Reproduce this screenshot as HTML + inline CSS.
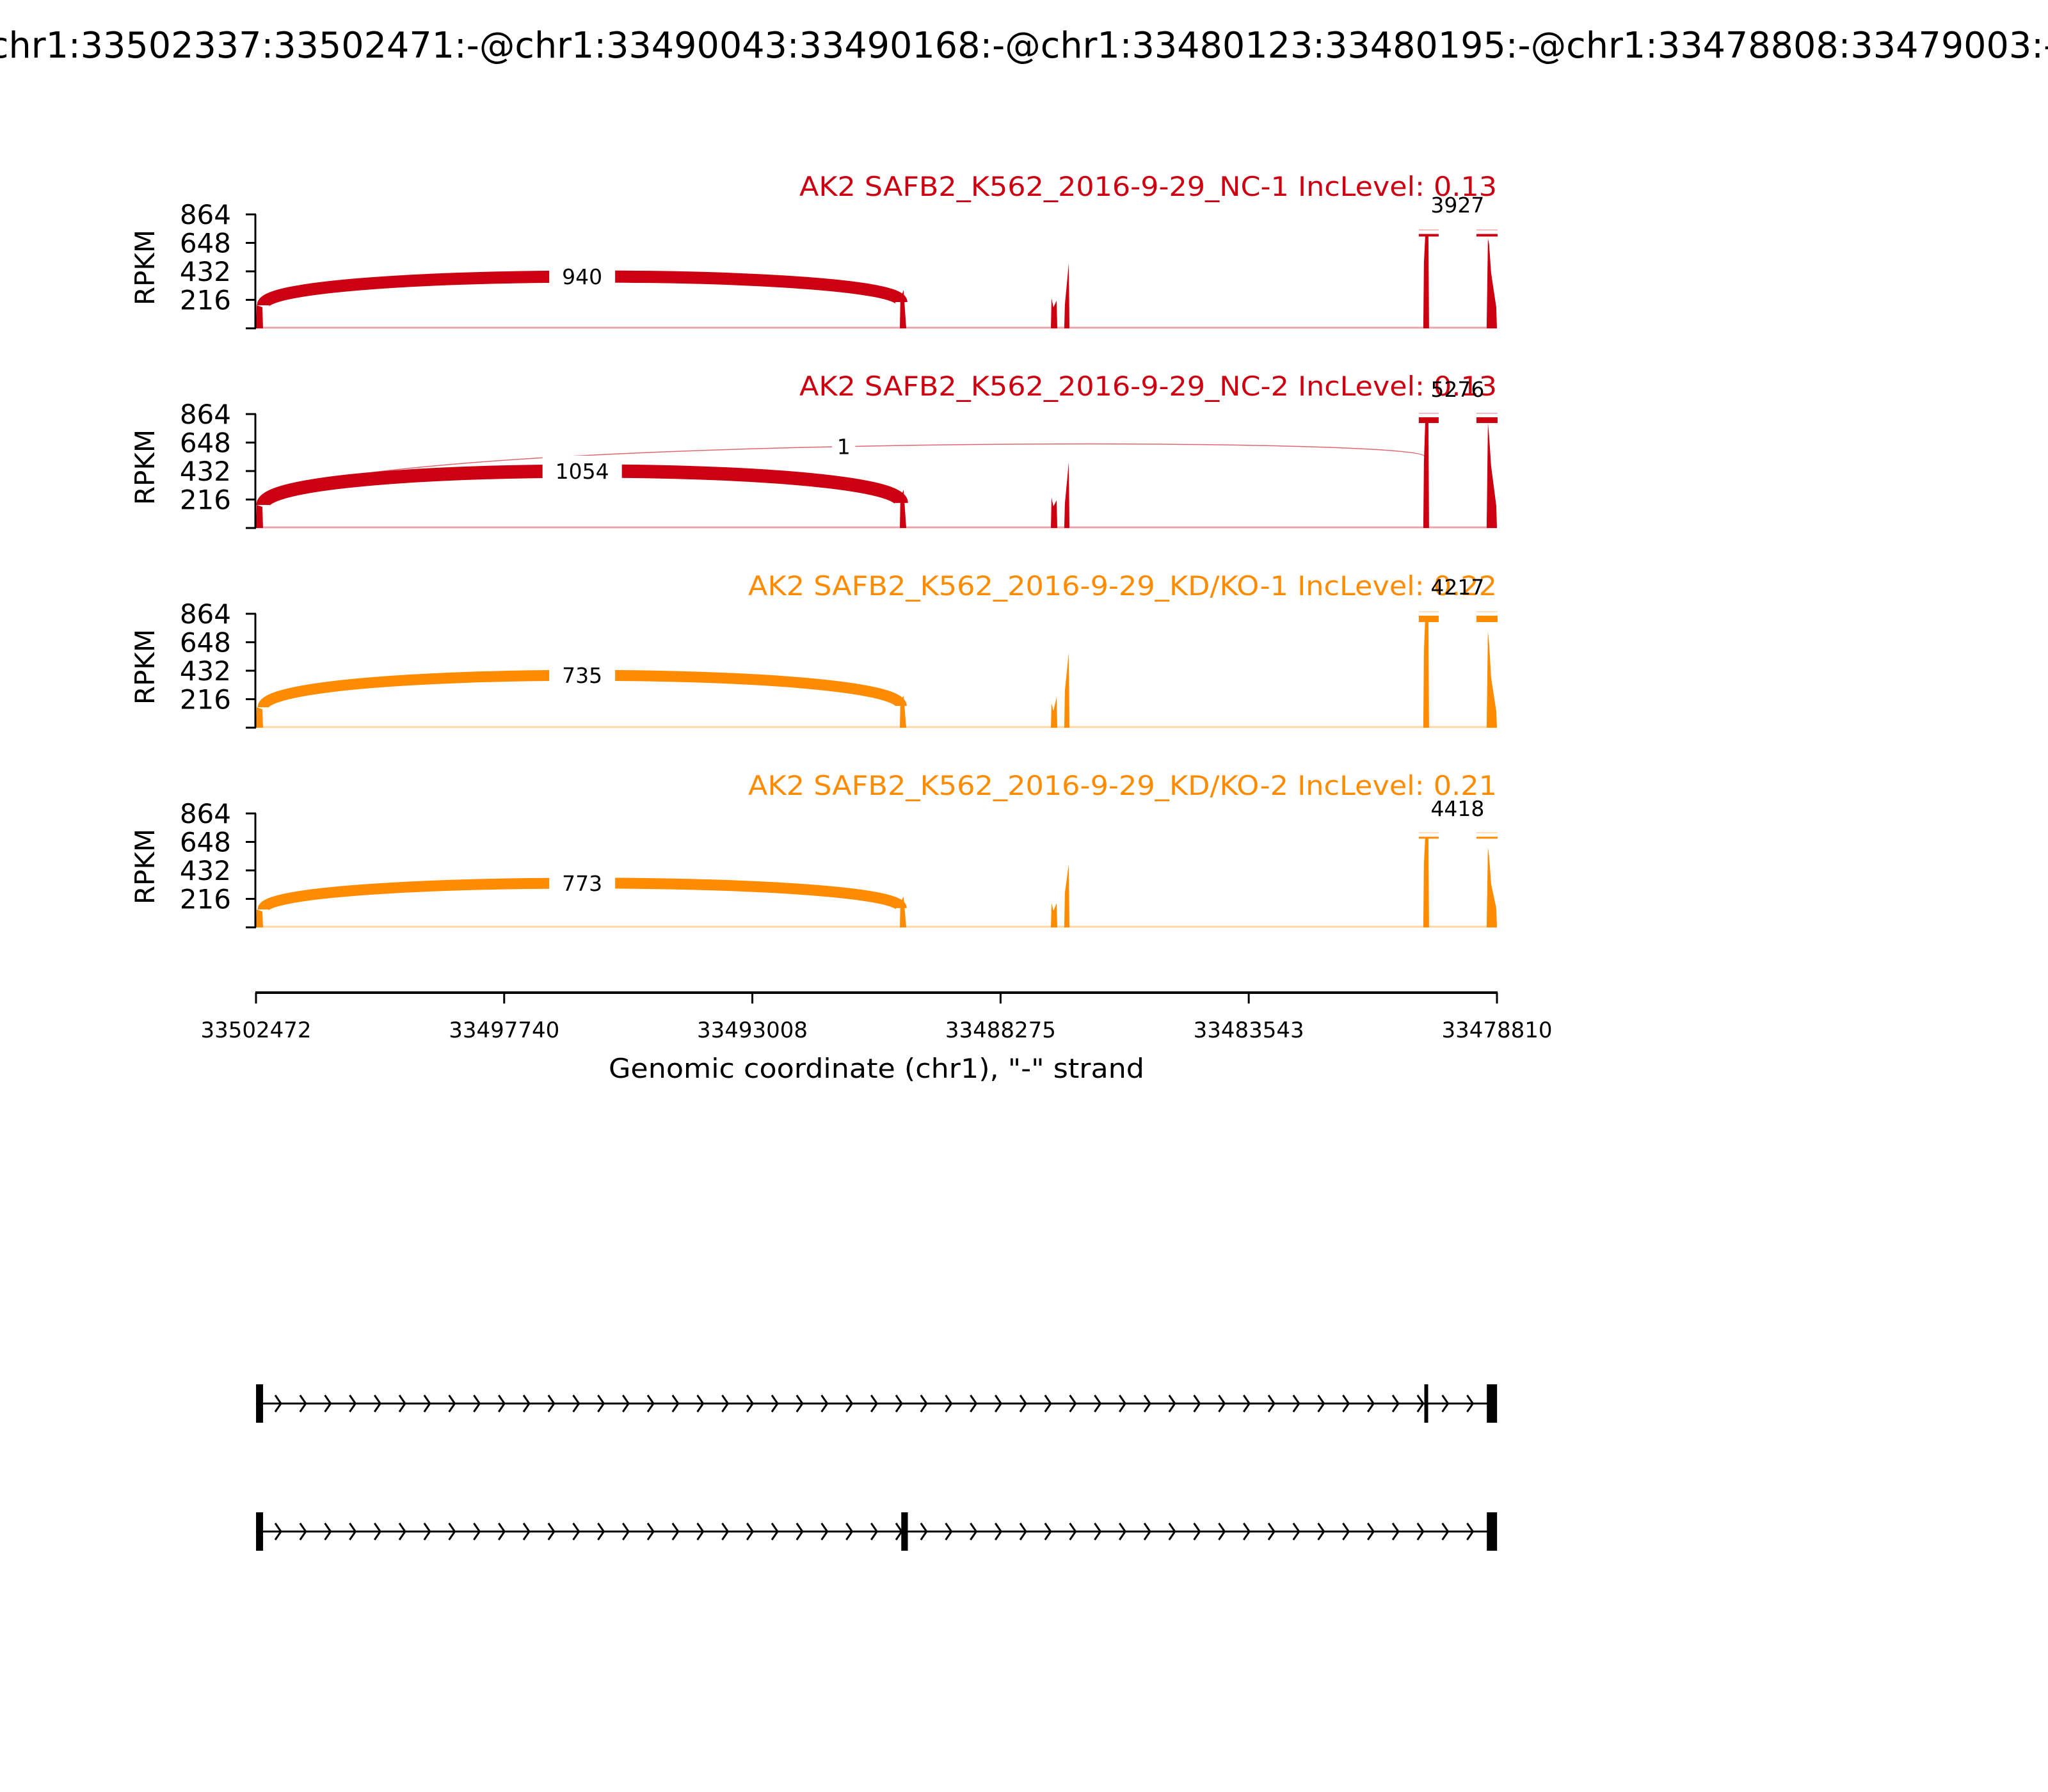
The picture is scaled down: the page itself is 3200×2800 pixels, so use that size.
<!DOCTYPE html>
<html><head><meta charset="utf-8"><title>Sashimi plot</title>
<style>
html,body{margin:0;padding:0;background:#fff;}
svg{display:block;font-family:"DejaVu Sans","Liberation Sans",sans-serif;}
</style></head>
<body>
<svg id="chart" width="3200" height="2800" viewBox="0 0 3200 2800" xmlns="http://www.w3.org/2000/svg">
<rect x="0" y="0" width="3200" height="2800" fill="#fff"/>
<text x="-17" y="90" font-size="56" textLength="3230" lengthAdjust="spacingAndGlyphs" fill="#000">chr1:33502337:33502471:-@chr1:33490043:33490168:-@chr1:33480123:33480195:-@chr1:33478808:33479003:-</text>
</svg>
<script>
const sampleNames = ["AK2 SAFB2_K562_2016-9-29_NC-1 IncLevel: 0.13","AK2 SAFB2_K562_2016-9-29_NC-2 IncLevel: 0.13","AK2 SAFB2_K562_2016-9-29_KD/KO-1 IncLevel: 0.22","AK2 SAFB2_K562_2016-9-29_KD/KO-2 IncLevel: 0.21"];
const sampleGroup = ["NC","NC","KD","KD"];
const yTicks = [216,432,648,864];
const xTickLabels = [33502472,33497740,33493008,33488275,33483543,33478810];
const covPos = [33502472,33502460,33502350,33502338,33490196,33490184,33490123,33490074,33487316,33487304,33487267,33487206,33487194,33487060,33487048,33486974,33486962,33480214,33480202,33480178,33480117,33480105,33479006,33478982,33478960,33478921,33478823,33478810];
const cov1 = [0,175,160,0, 0,230,290,0, 0,228,160,209,0, 0,180,495,0, 0,495,700,700,0, 0,680,640,420,160,0];
const cov2 = [0,175,160,0, 0,230,290,0, 0,230,165,210,0, 0,185,500,0, 0,500,800,800,0, 0,800,700,470,170,0];
const cov3 = [0,155,140,0, 0,200,243,0, 0,186,126,233,0, 0,282,568,0, 0,587,820,820,0, 0,733,640,380,126,0];
const cov4 = [0,136,120,0, 0,190,233,0, 0,184,126,184,0, 0,262,480,0, 0,490,675,675,0, 0,607,540,330,146,0];
const junc1Counts = [940,1054,735,773];
const junc1Start = [175,175,155,136];
const junc1End = [199,190,165,146];
const junc1Ctrl = [461,515,476,400];
const junc1Width = [19,21,17,17];
const juncSkipCounts = [0,1,0,0];
const juncSkipStart = [175,175,155,136];
const juncSkipEnd = [544,544,544,544];
const juncSkipCtrl = [704,704,704,704];
const junc2Counts = [3927,5276,4217,4418];
const junc2BarVal = [706,818,825,680];
const junc2BarThick = [4,9,10,3];
const junc2LabelVal = [937,1053,1068,903];
const exonsA = [[33502471,33502337],[33480195,33480123],[33479003,33478808]];
const exonsB = [[33502471,33502337],[33490168,33490043],[33479003,33478808]];

const NS="http://www.w3.org/2000/svg";
const svg=document.getElementById('chart');
const G0=33502472,G1=33478810,X0=400,X1=2339;
function xs(g){return X0+(G0-g)*(X1-X0)/(G0-G1);}
const zeros=[513,825,1137,1449];
const YMAX=864,YH=178;
function ys(i,v){return zeros[i]-v*YH/YMAX;}
function mk(tag,attrs,parent){const e=document.createElementNS(NS,tag);for(const k in attrs)e.setAttribute(k,attrs[k]);(parent||svg).appendChild(e);return e;}
const covs=[cov1,cov2,cov3,cov4];
const colors={NC:"#CC0011",KD:"#FF8C00"};

for(let i=0;i<4;i++){
  const col=colors[sampleGroup[i]];
  const g=mk('g',{});
  
  
  const t=mk('text',{x:X1,y:zeros[i]-207,'text-anchor':'end','font-size':42,fill:col,textLength:sampleGroup[i]=="NC"?1090:1170,lengthAdjust:'spacingAndGlyphs'},g);
  t.textContent=sampleNames[i];
  
  
  const bl=mk('line',{x1:X0,x2:X1,y1:zeros[i]-1,y2:zeros[i]-1,stroke:col,'stroke-opacity':0.35,'stroke-width':3},g);
  
  
  let pts=covPos.map((p,k)=>xs(p).toFixed(1)+','+ys(i,covs[i][k]).toFixed(1));
  pts.push(X1+','+zeros[i]);pts.unshift(X0+','+zeros[i]);
  const cp=mk('polygon',{points:pts.join(' '),fill:col},g);
  
  
  if(juncSkipCounts[i]>0){
    const ax=xs(33502337),bx=xs(33480195);
    const y1=ys(i,juncSkipStart[i]),y2=ys(i,juncSkipEnd[i]),yc=ys(i,juncSkipCtrl[i]);
    const sp=mk('path',{d:`M${ax},${y1} C${ax},${yc} ${bx},${yc} ${bx},${y2}`,fill:'none',stroke:col,'stroke-width':1.5,'stroke-opacity':0.6},g);
    
    
    const mx=(ax+bx)/2,my=(y1+6*yc+y2)/8;
    const r=mk('rect',{x:mx-18,y:my-20,width:36,height:40,fill:'#fff'},g);
    
    
    const lt=mk('text',{x:mx,y:my+12,'text-anchor':'middle','font-size':33,fill:'#000'},g);
    lt.textContent=juncSkipCounts[i];
    
    
  }
  {
    const ax=xs(33502337),bx=xs(33490168);
    const y1=ys(i,junc1Start[i]),y2=ys(i,junc1End[i]),yc=ys(i,junc1Ctrl[i]);
    const p=mk('path',{d:`M${ax},${y1} C${ax},${yc} ${bx},${yc} ${bx},${y2}`,fill:'none',stroke:col,'stroke-width':junc1Width[i]},g);
    
    
    const mx=(ax+bx)/2,my=(y1+6*yc+y2)/8;
    const w=String(junc1Counts[i]).length*21+40;
    const r=mk('rect',{x:mx-w/2,y:my-24,width:w,height:48,fill:'#fff'},g);
    
    
    const lt=mk('text',{x:mx,y:my+12,'text-anchor':'middle','font-size':33,fill:'#000'},g);
    lt.textContent=junc1Counts[i];
    
    
  }
  {
    const ax=xs(33480117),bx=xs(33479006);
    const yb=ys(i,junc2BarVal[i]),th=junc2BarThick[i];
    const segs=[[ax-15,ax+16],[bx-16,bx+17]];
    segs.forEach(s=>{
      const r=mk('rect',{x:s[0],y:yb-th/2,width:s[1]-s[0],height:th,fill:col},g);
      
      
      const l=mk('rect',{x:s[0],y:yb-th/2-7,width:s[1]-s[0],height:1.5,fill:col,'fill-opacity':0.35},g);
      
      
    });
    const lt=mk('text',{x:(ax+bx)/2,y:ys(i,junc2LabelVal[i])+12,'text-anchor':'middle','font-size':33,fill:'#000'},g);
    lt.textContent=junc2Counts[i];
    
    
  }
  const sp=mk('line',{x1:X0-1,x2:X0-1,y1:ys(i,YMAX),y2:zeros[i],stroke:'#000','stroke-width':3},g);
  
  
  [0].concat(yTicks).forEach(v=>{
    const tk=mk('line',{x1:X0-16,x2:X0,y1:ys(i,v),y2:ys(i,v),stroke:'#000','stroke-width':3},g);
    
    
  });
  yTicks.forEach(v=>{
    const tl=mk('text',{x:361,y:ys(i,v)+15,'text-anchor':'end','font-size':42,fill:'#000'},g);
    tl.textContent=v;
    
    
  });
  const yl=mk('text',{x:0,y:0,'text-anchor':'middle','font-size':42,fill:'#000',transform:`translate(241,${zeros[i]-95}) rotate(-90)`},g);
  yl.textContent='RPKM';
  
  
}

const xa=mk('g',{});


const xl=mk('line',{x1:X0-1,x2:X1+1,y1:1551,y2:1551,stroke:'#000','stroke-width':4},xa);


xTickLabels.forEach(v=>{
  const x=xs(v);
  const tk=mk('line',{x1:x,x2:x,y1:1551,y2:1568,stroke:'#000','stroke-width':3},xa);
  
  
  const tl=mk('text',{x:x,y:1621,'text-anchor':'middle','font-size':34,fill:'#000'},xa);
  tl.textContent=v;
  
  
});
const xt=mk('text',{x:(X0+X1)/2,y:1684,'text-anchor':'middle','font-size':42,fill:'#000',textLength:837,lengthAdjust:'spacingAndGlyphs'},xa);
xt.textContent='Genomic coordinate (chr1), "-" strand';



[[exonsA,2193],[exonsB,2393]].forEach((tr,ti)=>{
  const g=mk('g',{});
  
  
  const yc=tr[1];
  const il=mk('line',{x1:X0,x2:X1,y1:yc,y2:yc,stroke:'#000','stroke-width':3},g);
  
  
  for(let x=439;x<2322;x+=38.8){
    const c=mk('polyline',{points:`${x-9},${yc-13} ${x},${yc} ${x-9},${yc+13}`,fill:'none',stroke:'#000','stroke-width':3},g);
    
    
  }
  tr[0].forEach(e=>{
    const a=xs(e[0]),b=xs(e[1]);
    const w=Math.max(b-a,6);
    const r=mk('rect',{x:a,y:yc-30,width:w,height:60,fill:'#000'},g);
    
    
  });
});
</script>
</body></html>
